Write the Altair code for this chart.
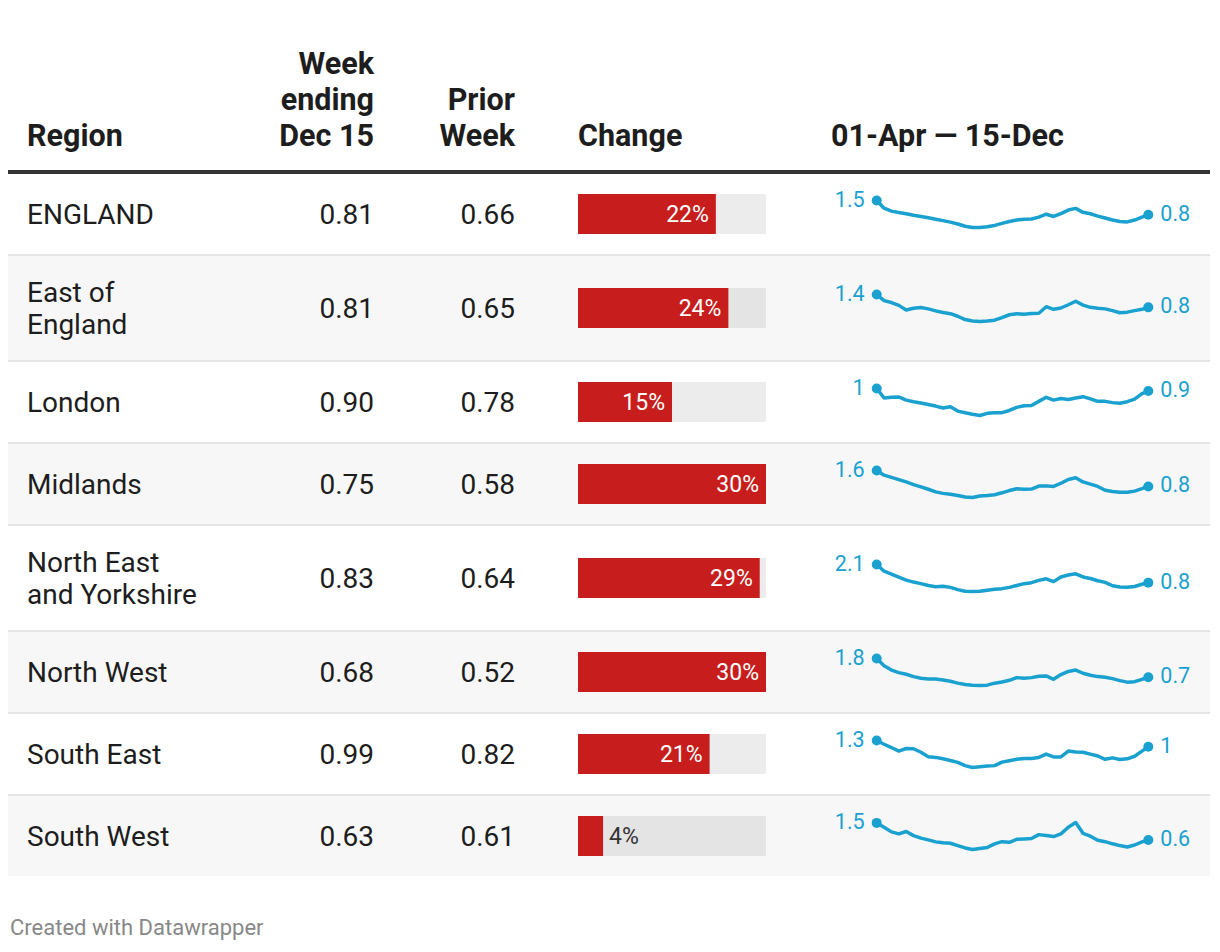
import altair as alt
import pandas as pd

# ---------------- data ----------------
regions = ["ENGLAND", "East of\nEngland", "London", "Midlands",
           "North East\nand Yorkshire", "North West", "South East", "South West"]
week_ending = [0.81, 0.81, 0.90, 0.75, 0.83, 0.68, 0.99, 0.63]
prior_week = [0.66, 0.65, 0.78, 0.58, 0.64, 0.52, 0.82, 0.61]
change_pct = [22, 24, 15, 30, 29, 30, 21, 4]

headers = ["Region", "Week\nending\nDec 15", "Prior\nWeek", "Change", "01-Apr \u2014 15-Dec"]
footer_note = "Created with Datawrapper"

spark_dates = [d.strftime("%Y-%m-%d") for d in pd.date_range("2020-04-01", periods=37, freq="7D")] + ["2020-12-15"]

spark_england = [1.50, 1.13, 0.99, 0.92, 0.86, 0.79, 0.73, 0.67, 0.60, 0.53, 0.46, 0.37, 0.26, 0.20, 0.20,
                 0.24, 0.30, 0.40, 0.49, 0.56, 0.60, 0.61, 0.70, 0.84, 0.73, 0.87, 1.04, 1.12, 0.93, 0.86,
                 0.75, 0.66, 0.56, 0.49, 0.47, 0.56, 0.70, 0.81]
spark_east = [1.40, 1.12, 1.03, 0.90, 0.69, 0.77, 0.80, 0.74, 0.65, 0.57, 0.52, 0.40, 0.25, 0.18, 0.16,
              0.18, 0.22, 0.34, 0.47, 0.52, 0.49, 0.53, 0.54, 0.84, 0.72, 0.78, 0.93, 1.09, 0.91, 0.81,
              0.77, 0.74, 0.66, 0.56, 0.59, 0.66, 0.72, 0.81]
spark_london = [0.98, 0.68, 0.70, 0.71, 0.61, 0.56, 0.52, 0.47, 0.42, 0.36, 0.40, 0.26, 0.21, 0.16, 0.12,
                0.19, 0.21, 0.21, 0.28, 0.38, 0.43, 0.44, 0.57, 0.70, 0.61, 0.66, 0.63, 0.68, 0.72, 0.65,
                0.57, 0.57, 0.53, 0.51, 0.56, 0.64, 0.82, 0.90]
spark_midlands = [1.60, 1.35, 1.23, 1.11, 0.99, 0.85, 0.73, 0.60, 0.46, 0.38, 0.33, 0.27, 0.19, 0.16, 0.24,
                  0.27, 0.31, 0.41, 0.53, 0.63, 0.60, 0.61, 0.77, 0.78, 0.75, 0.92, 1.12, 1.21, 0.99, 0.87,
                  0.75, 0.55, 0.48, 0.44, 0.44, 0.50, 0.63, 0.75]
spark_northeast = [2.10, 1.63, 1.43, 1.21, 1.01, 0.87, 0.76, 0.63, 0.54, 0.58, 0.50, 0.34, 0.23, 0.21, 0.23,
                   0.30, 0.36, 0.41, 0.50, 0.63, 0.76, 0.83, 0.99, 1.10, 0.90, 1.23, 1.36, 1.45, 1.23, 1.12,
                   0.96, 0.85, 0.61, 0.52, 0.50, 0.56, 0.72, 0.83]
spark_northwest = [1.80, 1.37, 1.11, 0.96, 0.86, 0.72, 0.62, 0.58, 0.58, 0.52, 0.44, 0.33, 0.25, 0.21, 0.19,
                   0.21, 0.33, 0.40, 0.50, 0.66, 0.62, 0.66, 0.74, 0.76, 0.56, 0.84, 1.03, 1.11, 0.92, 0.80,
                   0.72, 0.68, 0.60, 0.48, 0.39, 0.42, 0.56, 0.68]
spark_southeast = [1.26, 1.10, 0.96, 0.81, 0.92, 0.91, 0.76, 0.57, 0.54, 0.48, 0.41, 0.33, 0.19, 0.11, 0.14,
                   0.17, 0.19, 0.34, 0.40, 0.46, 0.49, 0.49, 0.54, 0.68, 0.56, 0.56, 0.81, 0.77, 0.76, 0.68,
                   0.60, 0.46, 0.52, 0.45, 0.48, 0.59, 0.81, 0.99]
spark_southwest = [1.50, 1.28, 1.04, 0.94, 1.06, 0.85, 0.72, 0.63, 0.53, 0.48, 0.46, 0.34, 0.22, 0.14, 0.19,
                   0.24, 0.43, 0.54, 0.51, 0.66, 0.68, 0.70, 0.90, 0.85, 0.80, 0.94, 1.28, 1.52, 0.97, 0.82,
                   0.61, 0.54, 0.43, 0.34, 0.27, 0.37, 0.53, 0.63]
spark_series = [spark_england, spark_east, spark_london, spark_midlands,
                spark_northeast, spark_northwest, spark_southeast, spark_southwest]

# ---------------- style ----------------
FONT = "Roboto"
INK = "#1d1d1d"
BLUE = "#1aa1cf"
RED = "#c71e1d"
ROW_FILLS = ["#ffffff", "#f7f7f7"]
SEP = "#e5e5e5"
COL_W = [244, 140, 140, 270, 408]
TOTAL_W = sum(COL_W)
BODY_FS = 28
HEAD_FS = 30.5
SPARK_FS = 21.5


def framed(ch, w, h, fill):
    return ch.properties(width=w, height=h,
                         view=alt.ViewBackground(fill=fill, strokeWidth=0))


# ---------------- header ----------------
HEADER_H = 162
HEAD_BASE = 138          # baseline of the last header line
hx = [19, 122, 123, 46, 29]
halign = ["left", "right", "right", "left", "left"]
header_cells = []
for j, lab in enumerate(headers):
    n = lab.count("\n") + 1
    hc = alt.Chart(pd.DataFrame({"h": [lab]})).mark_text(
        align=halign[j], baseline="alphabetic", lineBreak="\n", lineHeight=36,
        font=FONT, fontSize=HEAD_FS, fontWeight="bold", color=INK
    ).encode(x=alt.value(hx[j]), y=alt.value(HEAD_BASE - 36 * (n - 1)), text="h:N")
    header_cells.append(framed(hc, COL_W[j], HEADER_H, "#ffffff"))
header_row = alt.hconcat(*header_cells, spacing=0, bounds="flush")

rule_chart = framed(
    alt.Chart(pd.DataFrame({"a": [0]})).mark_point(opacity=0, size=1).encode(x=alt.value(1), y=alt.value(1)),
    TOTAL_W, 4, "#333333")

# ---------------- body rows ----------------
bar_scale = alt.Scale(domain=[0, max(change_pct)], range=[46, 234])
rows = []
for i, name in enumerate(regions):
    n_lines = name.count("\n") + 1
    h = 80 + 24 * (n_lines - 1)
    mid = h / 2
    fill = ROW_FILLS[i % 2]
    rdf = pd.DataFrame({"region": [name], "week": [week_ending[i]], "prior": [prior_week[i]],
                        "change": [change_pct[i]], "start": [0], "full": [max(change_pct)]})
    base = alt.Chart(rdf)

    c1 = base.mark_text(align="left", baseline="alphabetic", lineBreak="\n", lineHeight=32,
                        font=FONT, fontSize=BODY_FS, color=INK).encode(
        x=alt.value(19), y=alt.value(mid + 10 - 16 * (n_lines - 1)), text="region:N")
    c2 = base.mark_text(align="right", baseline="alphabetic", font=FONT, fontSize=BODY_FS, color=INK).encode(
        x=alt.value(122), y=alt.value(mid + 10), text=alt.Text("week:Q", format=".2f"))
    c3 = base.mark_text(align="right", baseline="alphabetic", font=FONT, fontSize=BODY_FS, color=INK).encode(
        x=alt.value(123), y=alt.value(mid + 10), text=alt.Text("prior:Q", format=".2f"))

    bx = alt.X("start:Q", scale=bar_scale, axis=None)
    bg = base.mark_rect(color="#000000", opacity=0.075).encode(
        x=bx, x2="full:Q", y=alt.value(mid - 20), y2=alt.value(mid + 20))
    bar = base.mark_rect(color=RED).encode(
        x=bx, x2="change:Q", y=alt.value(mid - 20), y2=alt.value(mid + 20))
    lbl = base.transform_calculate(label="datum.change + '%'")
    inside = lbl.transform_filter("datum.change >= 10").mark_text(
        align="right", baseline="alphabetic", dx=-7, font=FONT, fontSize=23, color="#ffffff").encode(
        x=alt.X("change:Q", scale=bar_scale, axis=None), y=alt.value(mid + 8), text="label:N")
    outside = lbl.transform_filter("datum.change < 10").mark_text(
        align="left", baseline="alphabetic", dx=6, font=FONT, fontSize=23, color="#333333").encode(
        x=alt.X("change:Q", scale=bar_scale, axis=None), y=alt.value(mid + 8), text="label:N")
    c4 = alt.layer(bg, bar, inside, outside)

    sdf = pd.DataFrame({"date": spark_dates, "value": spark_series[i]})
    xs = alt.Scale(range=[74.7, 346.3], nice=False)
    ys = alt.Scale(zero=False, nice=False, range=[mid + 13.5, mid - 13.5])
    X = alt.X("date:T", scale=xs, axis=None)
    Y = alt.Y("value:Q", scale=ys, axis=None)
    line = alt.Chart(sdf).mark_line(color=BLUE, strokeWidth=3.5, strokeJoin="round", strokeCap="round").encode(x=X, y=Y)
    ends_df = pd.concat([sdf.iloc[[0]], sdf.iloc[[-1]]])
    ends = alt.Chart(ends_df).mark_circle(color=BLUE, size=100, opacity=1).encode(x=X, y=Y)
    first_lbl = alt.Chart(sdf.iloc[[0]]).mark_text(
        align="right", baseline="middle", dx=-12, font=FONT, fontSize=SPARK_FS, color=BLUE).encode(
        x=X, y=Y, text=alt.Text("value:Q", format=".1~f"))
    last_lbl = alt.Chart(sdf.iloc[[-1]]).mark_text(
        align="left", baseline="middle", dx=12, font=FONT, fontSize=SPARK_FS, color=BLUE).encode(
        x=X, y=Y, text=alt.Text("value:Q", format=".1~f"))
    c5 = alt.layer(line, ends, first_lbl, last_lbl)

    cells = [c1, c2, c3, c4, c5]
    rows.append(alt.hconcat(*[framed(c, COL_W[k], h, fill) for k, c in enumerate(cells)],
                            spacing=0, bounds="flush"))

# ---------------- footer ----------------
footer = framed(
    alt.Chart(pd.DataFrame({"t": [footer_note]})).mark_text(
        align="left", baseline="middle", font=FONT, fontSize=22, color="#888888").encode(
        x=alt.value(2), y=alt.value(52), text="t:N"),
    TOTAL_W, 68, "#ffffff")

chart = alt.vconcat(
    alt.vconcat(header_row, rule_chart, spacing=0),
    alt.vconcat(*rows, spacing=2),
    footer,
    spacing=0
).properties(padding=0, background=SEP).configure_view(strokeWidth=0)

chart.save("out.html", embed_options={"renderer": "svg", "actions": False})
